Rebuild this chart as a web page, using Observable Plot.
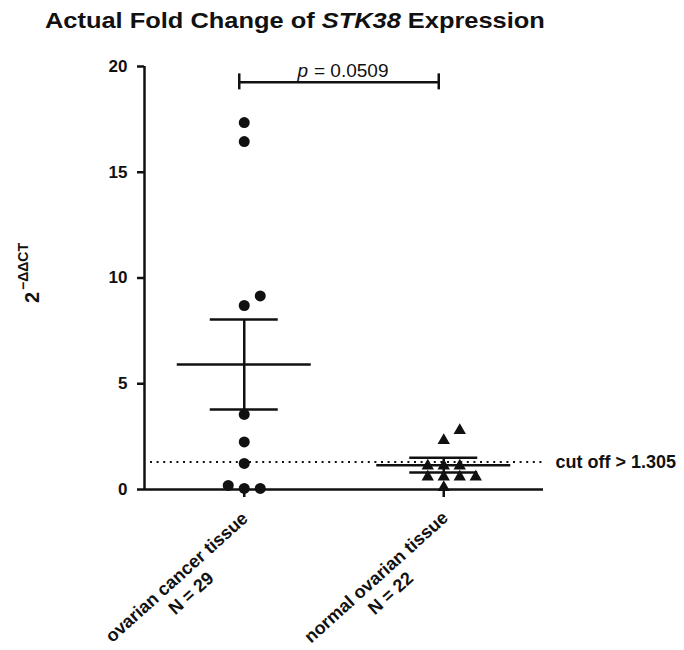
<!DOCTYPE html>
<html><head><meta charset="utf-8">
<script src="https://cdn.jsdelivr.net/npm/d3@7"></script>
<script src="https://cdn.jsdelivr.net/npm/@observablehq/plot@0.6"></script>
<style>
body{margin:0;background:#fff;font-family:"Liberation Sans",Arial,sans-serif;}
#title{height:30px;padding-top:10px;padding-left:45px;font-size:22px;line-height:22px;font-weight:bold;color:#111;white-space:nowrap;}
#title span{display:inline-block;transform:scaleX(1.155);transform-origin:left center;}
</style></head><body>
<div id="title"><span>Actual Fold Change of <i>STK38</i> Expression</span></div>
<div id="chart"></div>
<script>
// ---- data ----
const groups = ["ovarian cancer tissue", "normal ovarian tissue"];
const groupN = [29, 22];
const groupSymbol = ["circle", "triangle"];
const cancerValues = [17.35, 16.45, 8.7, 9.15, 3.55, 2.25, 1.23, 0.05, 0.05, 0.19];
const normalValues = [0.1, 0.6, 0.6, 0.6, 0.6, 1.12, 1.12, 1.12, 2.32, 2.79];
const groupMean = [5.91, 1.15];
const semLow = [3.78, 0.8];
const semHigh = [8.04, 1.5];
const cutoff = 1.305;
const cutoffLabel = "cut off > 1.305";
const pLetter = "p";
const pValueText = "= 0.0509";
const bracketLevel = 19.25;
const yTicks = [0, 5, 10, 15, 20];
const yLabelBase = "2";
const yLabelSup = "\u2212\u0394\u0394CT";

// ---- layout ----
const W = 684, H = 610, mL = 144, mR = 141, mT = 26, mB = 161;
const xDomain = [0.5, 2.5], yDomain = [0, 20];
const pxPerX = (W - mL - mR) / (xDomain[1] - xDomain[0]);
const pxPerY = (H - mT - mB) / (yDomain[1] - yDomain[0]);
const slotPx = 16, collidePx = 10;

const stats = groups.map((g, i) => ({
  group: g, n: groupN[i], pos: i + 1, mean: groupMean[i], lo: semLow[i], hi: semHigh[i]
}));

function spread(values, gi) {
  const placed = [];
  const order = [0, 1, -1, 2, -2, 3, -3];
  return values.map(v => {
    let slot = 0;
    for (const s of order) {
      if (!placed.some(p => p.s === s && Math.abs(p.v - v) * pxPerY < collidePx)) { slot = s; break; }
    }
    placed.push({s: slot, v});
    return {group: groups[gi], value: v, x: gi + 1 + slot * slotPx / pxPerX, symbol: groupSymbol[gi]};
  });
}
const cancerPts = spread(cancerValues, 0);
const normalPts = spread(normalValues, 1);
const mid = (stats[0].pos + stats[1].pos) / 2;

const chart = Plot.plot({
  width: W, height: H,
  marginLeft: mL, marginRight: mR, marginTop: mT, marginBottom: mB,
  x: {domain: xDomain, axis: null},
  y: {domain: yDomain},
  style: {fontFamily: "Liberation Sans, Arial, sans-serif", color: "#111", background: "#fff"},
  marks: [
    Plot.ruleY([cutoff], {strokeDasharray: "2,4.6", strokeWidth: 2, insetLeft: 6, insetRight: -2}),
    Plot.text([cutoffLabel], {x: xDomain[1], y: cutoff, dx: 12, textAnchor: "start", fontSize: 18, fontWeight: "bold"}),
    Plot.ruleX([xDomain[0]], {y1: yDomain[0], y2: yDomain[1], strokeWidth: 2.5}),
    Plot.ruleY([yDomain[0]], {x1: xDomain[0], x2: xDomain[1], strokeWidth: 2.5}),
    Plot.axisY({ticks: yTicks, tickSize: 7, tickPadding: 10, strokeWidth: 2.5, fontSize: 17, fontWeight: "bold", label: null}),
    Plot.ruleX(stats, {x: "pos", y1: yDomain[0], y2: yDomain[0], insetBottom: -8, strokeWidth: 2.5}),
    Plot.text(stats, {x: "pos", y: yDomain[0], text: d => `${d.group}\nN = ${d.n}`, rotate: -42,
      textAnchor: "middle", lineAnchor: "middle", lineHeight: 1.2, dx: -61, dy: 95, fontSize: 18, fontWeight: "bold"}),
    Plot.text([yLabelBase], {frameAnchor: "left", rotate: -90, textAnchor: "start", dx: -112, dy: 25, fontSize: 20, fontWeight: "bold"}),
    Plot.text([yLabelSup], {frameAnchor: "left", rotate: -90, textAnchor: "start", dx: -121, dy: 12, fontSize: 14, fontWeight: "bold"}),
    Plot.ruleX(stats, {x: "pos", y1: "lo", y2: "hi", strokeWidth: 2.5}),
    Plot.ruleY(stats, {y: "lo", x1: "pos", x2: "pos", insetLeft: -34, insetRight: -34, strokeWidth: 2.5}),
    Plot.ruleY(stats, {y: "hi", x1: "pos", x2: "pos", insetLeft: -34, insetRight: -34, strokeWidth: 2.5}),
    Plot.ruleY(stats, {y: "mean", x1: "pos", x2: "pos", insetLeft: -67, insetRight: -67, strokeWidth: 2.5}),
    Plot.dot(cancerPts, {x: "x", y: "value", symbol: "circle", r: 5.5, fill: "#111", stroke: "none"}),
    Plot.dot(normalPts, {x: "x", y: "value", symbol: "triangle", r: 4.6, fill: "#111", stroke: "none"}),
    Plot.ruleY([bracketLevel], {x1: stats[0].pos, x2: stats[1].pos, dx: -5, strokeWidth: 2.5}),
    Plot.ruleX(stats, {x: "pos", y1: bracketLevel, y2: bracketLevel, insetTop: -8.5, insetBottom: -7.5, dx: -5, strokeWidth: 2.5}),
    Plot.text([pLetter], {x: mid, y: bracketLevel, dx: -36, dy: -5, textAnchor: "end", lineAnchor: "bottom", fontSize: 19, fontStyle: "italic", fontWeight: "normal"}),
    Plot.text([pValueText], {x: mid, y: bracketLevel, dx: -30, dy: -5, textAnchor: "start", lineAnchor: "bottom", fontSize: 19, fontWeight: "normal"})
  ]
});
document.getElementById("chart").appendChild(chart);
</script>
</body></html>
